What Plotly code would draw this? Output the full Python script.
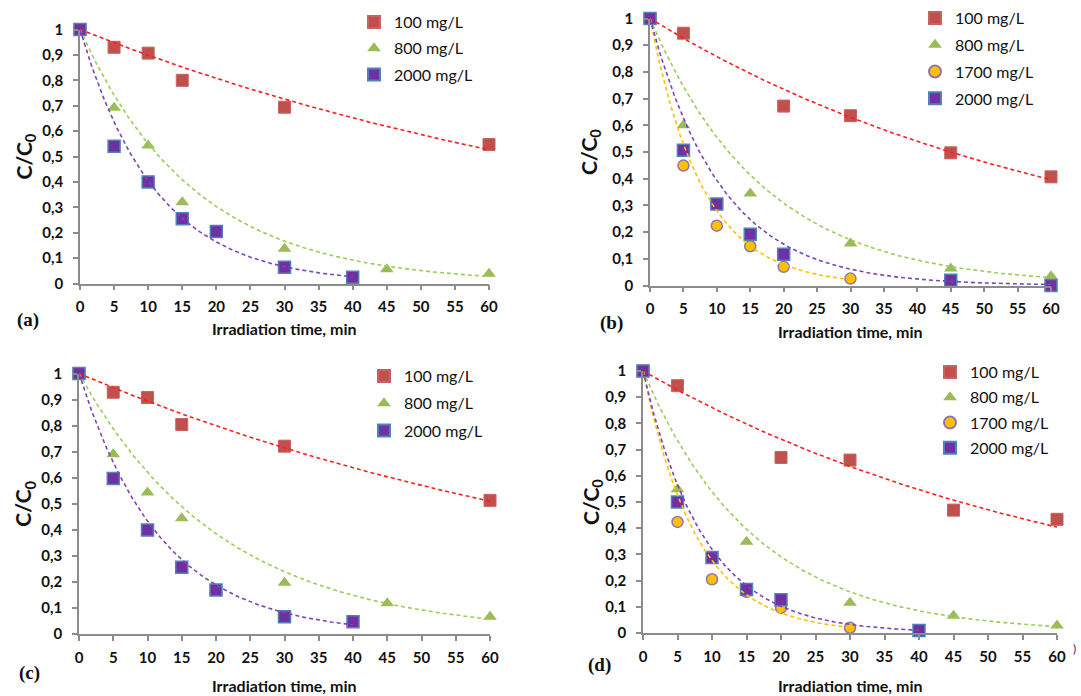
import numpy as np
import plotly.graph_objects as go

W, H = 1081, 696

# ---- data: C/C0 versus irradiation time (min) ----
# panel (a)
a_t_100 = [0, 5, 10, 15, 30, 60]
a_y_100 = [1.0, 0.93, 0.907, 0.80, 0.694, 0.547]
a_t_800 = [0, 5, 10, 15, 30, 45, 60]
a_y_800 = [1.0, 0.692, 0.543, 0.32, 0.137, 0.056, 0.038]
a_t_2000 = [0, 5, 10, 15, 20, 30, 40]
a_y_2000 = [1.0, 0.54, 0.40, 0.255, 0.205, 0.064, 0.025]

# panel (b)
b_t_100 = [0, 5, 20, 30, 45, 60]
b_y_100 = [1.0, 0.945, 0.672, 0.636, 0.497, 0.407]
b_t_800 = [0, 5, 15, 30, 45, 60]
b_y_800 = [1.0, 0.60, 0.345, 0.157, 0.064, 0.035]
b_t_1700 = [0, 5, 10, 15, 20, 30]
b_y_1700 = [1.0, 0.449, 0.224, 0.147, 0.07, 0.026]
b_t_2000 = [0, 5, 10, 15, 20, 45, 60]
b_y_2000 = [1.0, 0.507, 0.305, 0.192, 0.117, 0.02, 0.0]

# panel (c)
c_t_100 = [0, 5, 10, 15, 30, 60]
c_y_100 = [1.0, 0.928, 0.908, 0.804, 0.721, 0.513]
c_t_800 = [0, 5, 10, 15, 30, 45, 60]
c_y_800 = [1.0, 0.69, 0.543, 0.444, 0.197, 0.118, 0.066]
c_t_2000 = [0, 5, 10, 15, 20, 30, 40]
c_y_2000 = [1.0, 0.597, 0.399, 0.256, 0.169, 0.066, 0.047]

# panel (d)
d_t_100 = [0, 5, 20, 30, 45, 60]
d_y_100 = [1.0, 0.944, 0.67, 0.66, 0.469, 0.434]
d_t_800 = [0, 5, 15, 30, 45, 60]
d_y_800 = [1.0, 0.549, 0.348, 0.115, 0.066, 0.029]
d_t_1700 = [0, 5, 10, 15, 20, 30]
d_y_1700 = [1.0, 0.424, 0.205, 0.157, 0.096, 0.02]
d_t_2000 = [0, 5, 10, 15, 20, 40]
d_y_2000 = [1.0, 0.50, 0.288, 0.166, 0.127, 0.01]

x_ticks = list(range(0, 61, 5))
y_ticks = [round(0.1 * i, 1) for i in range(11)]
y_ticktext = ["0", "0,1", "0,2", "0,3", "0,4", "0,5", "0,6", "0,7", "0,8", "0,9", "1"]
x_title = "Irradiation time, min"
y_title = "C/C<sub>0</sub>"

# ---- styles ----
STYLE = {
    "100 mg/L": dict(symbol="square", size=12, color="#C0504D",
                     line=dict(color="#C9625F", width=1), fit="#FF1E1E"),
    "800 mg/L": dict(symbol="triangle-up", size=12, color="#9BBB59",
                     line=dict(color="#9BBB59", width=0), fit="#9ACD5A"),
    "1700 mg/L": dict(symbol="circle", size=11, color="#FFC000",
                      line=dict(color="#8E78A8", width=1.5), fit="#FFC000"),
    "2000 mg/L": dict(symbol="square", size=12, color="#7030A0",
                      line=dict(color="#4F81BD", width=1.5), fit="#7E44B8"),
}

# panel boxes in pixels: (x at t=0, x at t=60, y at 1, y at 0)
PANELS = [
    dict(box=(80, 489, 29.5, 283.5), tag="(a)", tag_xy=(28, 320), xt_y=329, yt_x=24,
         leg=(354, 5, 2.5),
         series=[("100 mg/L", a_t_100, a_y_100), ("800 mg/L", a_t_800, a_y_800),
                 ("2000 mg/L", a_t_2000, a_y_2000)]),
    dict(box=(650, 1051, 18.5, 285.5), tag="(b)", tag_xy=(611, 323), xt_y=331, yt_x=590,
         leg=(915, 1, 3),
         series=[("100 mg/L", b_t_100, b_y_100), ("800 mg/L", b_t_800, b_y_800),
                 ("1700 mg/L", b_t_1700, b_y_1700), ("2000 mg/L", b_t_2000, b_y_2000)]),
    dict(box=(79, 490, 373.5, 634), tag="(c)", tag_xy=(29, 673), xt_y=685, yt_x=24,
         leg=(364, 359, 3.5),
         series=[("100 mg/L", c_t_100, c_y_100), ("800 mg/L", c_t_800, c_y_800),
                 ("2000 mg/L", c_t_2000, c_y_2000)]),
    dict(box=(643, 1057, 371, 633), tag="(d)", tag_xy=(599, 665), xt_y=685, yt_x=592,
         leg=(930, 355, 1.5),
         series=[("100 mg/L", d_t_100, d_y_100), ("800 mg/L", d_t_800, d_y_800),
                 ("1700 mg/L", d_t_1700, d_y_1700), ("2000 mg/L", d_t_2000, d_y_2000)]),
]


def first_order_k(t, y):
    """Pseudo-first-order rate constant: ln(C0/C) = k t, fitted through the origin."""
    t = np.asarray(t, float)
    y = np.asarray(y, float)
    ok = y > 0
    t, y = t[ok], y[ok]
    return float(np.sum(t * -np.log(y)) / np.sum(t * t))


TICK_FONT = dict(family="Lato", size=15, color="#111111", weight="bold")
AXIS_GREY = "#8C8C8C"

fig = go.Figure()
layout = dict(
    width=W, height=H, margin=dict(l=0, r=0, t=0, b=0, autoexpand=False),
    paper_bgcolor="white", plot_bgcolor="white", annotations=[],
)

for n, p in enumerate(PANELS, start=1):
    sfx = "" if n == 1 else str(n)
    xa, ya = "x" + sfx, "y" + sfx
    leg = "legend" + sfx
    x0, x60, y1, y0 = p["box"]

    layout["xaxis" + sfx] = dict(
        domain=[x0 / W, x60 / W], range=[0, 60], anchor=ya, automargin=False,
        tickvals=x_ticks, ticktext=[str(v) for v in x_ticks],
        ticks="outside", ticklen=5, tickwidth=1.5, tickcolor=AXIS_GREY,
        showline=True, linecolor=AXIS_GREY, linewidth=1.5,
        showgrid=False, zeroline=False, tickfont=TICK_FONT, ticklabelstandoff=4,
    )
    layout["yaxis" + sfx] = dict(
        domain=[1 - y0 / H, 1 - y1 / H], range=[0, 1], anchor=xa, automargin=False,
        tickvals=y_ticks, ticktext=y_ticktext,
        ticks="outside", ticklen=5, tickwidth=1.5, tickcolor=AXIS_GREY,
        showline=True, linecolor=AXIS_GREY, linewidth=1.5,
        showgrid=False, zeroline=False, tickfont=TICK_FONT, ticklabelstandoff=7,
    )

    lx, ly, gap = p["leg"]
    layout[leg] = dict(
        x=lx / W, y=1 - ly / H, xanchor="left", yanchor="top",
        bgcolor="rgba(0,0,0,0)", borderwidth=0,
        font=dict(family="Lato", size=16, color="#111111"),
        tracegroupgap=gap, itemsizing="constant",
    )

    # measured points
    for name, t, y in p["series"]:
        st = STYLE[name]
        fig.add_trace(go.Scatter(
            x=t, y=y, mode="markers", name=name, xaxis=xa, yaxis=ya,
            legend=leg, legendgroup=f"{n}-{name}", cliponaxis=False,
            marker=dict(symbol=st["symbol"], size=st["size"], color=st["color"],
                        line=st["line"]),
        ))

    # first-order kinetic trend lines, C/C0 = exp(-k t)
    for name, t, y in p["series"]:
        k = first_order_k(t, y)
        tt = np.linspace(0, max(t), 200)
        fig.add_trace(go.Scatter(
            x=tt, y=np.exp(-k * tt), mode="lines", showlegend=False,
            xaxis=xa, yaxis=ya, hoverinfo="skip", cliponaxis=False,
            line=dict(color=STYLE[name]["fit"], width=1.6, dash="4px,3px"),
        ))

    ann = layout["annotations"]
    ann.append(dict(
        text=x_title, x=(x0 + x60) / 2 / W, y=1 - p["xt_y"] / H,
        xref="paper", yref="paper", showarrow=False, xanchor="center", yanchor="middle",
        font=dict(family="Lato", size=16, color="#111111", weight="bold"),
    ))
    ann.append(dict(
        text=y_title, x=p["yt_x"] / W, y=1 - (y0 + y1) / 2 / H,
        xref="paper", yref="paper", showarrow=False, textangle=-90,
        xanchor="center", yanchor="middle",
        font=dict(family="Lato", size=21, color="#111111", weight="bold"),
    ))
    tx, ty = p["tag_xy"]
    ann.append(dict(
        text=p["tag"], x=tx / W, y=1 - ty / H, xref="paper", yref="paper",
        showarrow=False, xanchor="center", yanchor="middle",
        font=dict(family="Liberation Serif", size=19, color="#111111", weight="bold"),
    ))

layout["annotations"].append(dict(
    text=")", x=1074 / W, y=1 - 648 / H, xref="paper", yref="paper",
    showarrow=False, xanchor="center", yanchor="middle",
    font=dict(family="Lato", size=12, color="#333333"),
))

fig.update_layout(**layout)
fig.write_html("out.html")
